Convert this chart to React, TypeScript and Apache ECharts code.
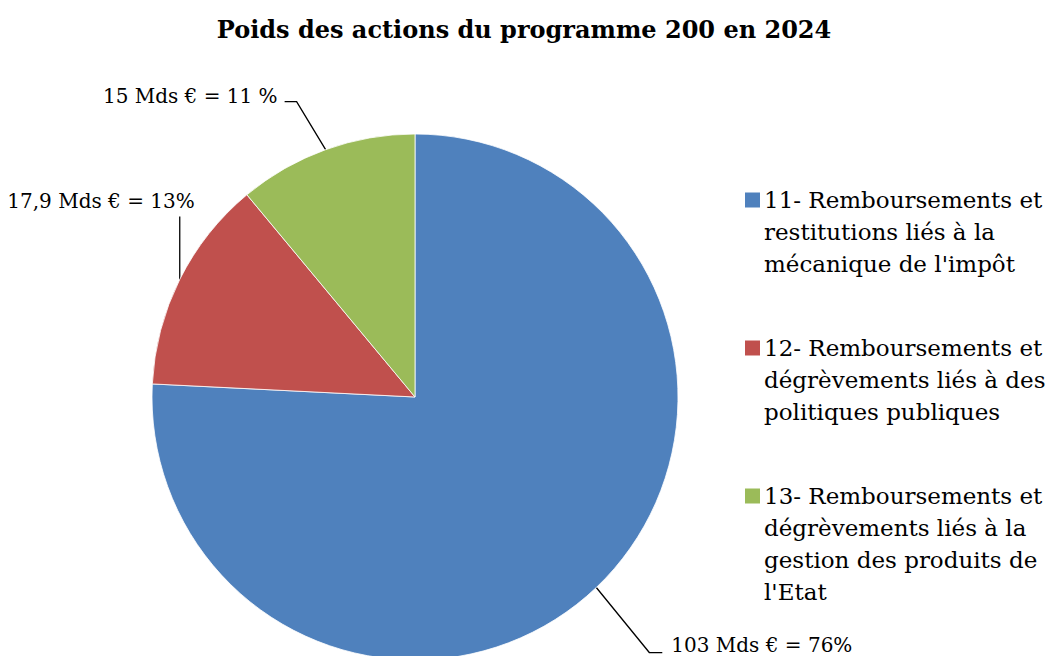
import React, { useEffect, useRef } from "react";
import * as echarts from "echarts";

const TITLE = "Poids des actions du programme 200 en 2024";
const CATEGORIES = [
  "11- Remboursements et\nrestitutions liés à la\nmécanique de l'impôt",
  "12- Remboursements et\ndégrèvements liés à des\npolitiques publiques",
  "13- Remboursements et\ndégrèvements liés à la\ngestion des produits de\nl'Etat",
];
const VALUES = [103, 17.9, 15];
const LABELS = ["103 Mds € = 76%", "17,9 Mds € = 13%", "15 Mds € = 11 %"];
const COLORS = ["#4F81BD", "#C0504D", "#9BBB59"];

const FONT = "'DejaVu Serif', serif";
const LINE_H = 32;

// leader-line offsets relative to the slice's outer edge point (style only)
const LEADERS: { knee: number[]; end: number[]; label: number[]; align: string }[] = [
  { knee: [53, 65], end: [66, 65], label: [75, 57], align: "left" },
  { knee: [0, -63], end: [0, -63], label: [15, -78], align: "right" },
  { knee: [-29, -48], end: [-41, -48], label: [-48, -54], align: "right" },
];

export default function App() {
  const ref = useRef<HTMLDivElement>(null);
  useEffect(() => {
    if (!ref.current) return;
    const chart = echarts.init(ref.current, undefined, { renderer: "svg" });
    const rich: any = {
      gap: { width: 4, lineHeight: LINE_H },
      ind: { width: 19, lineHeight: LINE_H },
      t: { fontFamily: FONT, fontSize: 23, lineHeight: LINE_H, color: "#000" },
    };
    COLORS.forEach((c, i) => {
      rich["sq" + i] = { width: 15, height: 15, backgroundColor: c, lineHeight: LINE_H };
    });
    const option: any = {
      animation: false,
      backgroundColor: "#ffffff",
      title: {
        text: TITLE,
        left: "center",
        top: 12,
        textStyle: { fontFamily: FONT, fontSize: 24, fontWeight: "bold", color: "#000" },
      },
      legend: {
        orient: "vertical",
        left: 740,
        top: 184,
        padding: 0,
        itemWidth: 0,
        itemHeight: 0,
        itemGap: 52,
        icon: "rect",
        itemStyle: { opacity: 0, borderWidth: 0 },
        textStyle: { fontFamily: FONT, fontSize: 23, lineHeight: LINE_H, color: "#000", rich },
        formatter: (name: string) => {
          const idx = CATEGORIES.indexOf(name);
          return name
            .split("\n")
            .map((l, i) => (i === 0 ? `{sq${idx}|}{gap|}{t|${l}}` : `{ind|}{t|${l}}`))
            .join("\n");
        },
        data: CATEGORIES,
      },
      series: [
        {
          type: "pie",
          center: [415, 397],
          radius: 263,
          startAngle: 90,
          clockwise: true,
          avoidLabelOverlap: false,
          itemStyle: { borderColor: "#ffffff", borderWidth: 0.8 },
          label: {
            show: true,
            position: "outside",
            fontFamily: FONT,
            fontSize: 20,
            color: "#000",
            formatter: (p: any) => LABELS[p.dataIndex],
          },
          labelLine: { show: true, lineStyle: { color: "#000", width: 1.3 } },
          labelLayout: (p: any) => {
            const pts = p.labelLinePoints;
            const L = LEADERS[p.dataIndex];
            if (!pts || !pts[0] || !L) return {};
            const [x0, y0] = pts[0];
            return {
              x: x0 + L.label[0],
              y: y0 + L.label[1],
              align: L.align,
              verticalAlign: "middle",
              labelLinePoints: [
                [x0, y0],
                [x0 + L.knee[0], y0 + L.knee[1]],
                [x0 + L.end[0], y0 + L.end[1]],
              ],
            };
          },
          emphasis: { disabled: true },
          data: VALUES.map((v, i) => ({
            name: CATEGORIES[i],
            value: v,
            itemStyle: { color: COLORS[i] },
          })),
        },
      ],
    };
    chart.setOption(option);
    return () => chart.dispose();
  }, []);
  return (
    <div
      ref={ref}
      style={{ position: "fixed", left: 0, top: 0, width: 1048, height: 656 }}
    />
  );
}
